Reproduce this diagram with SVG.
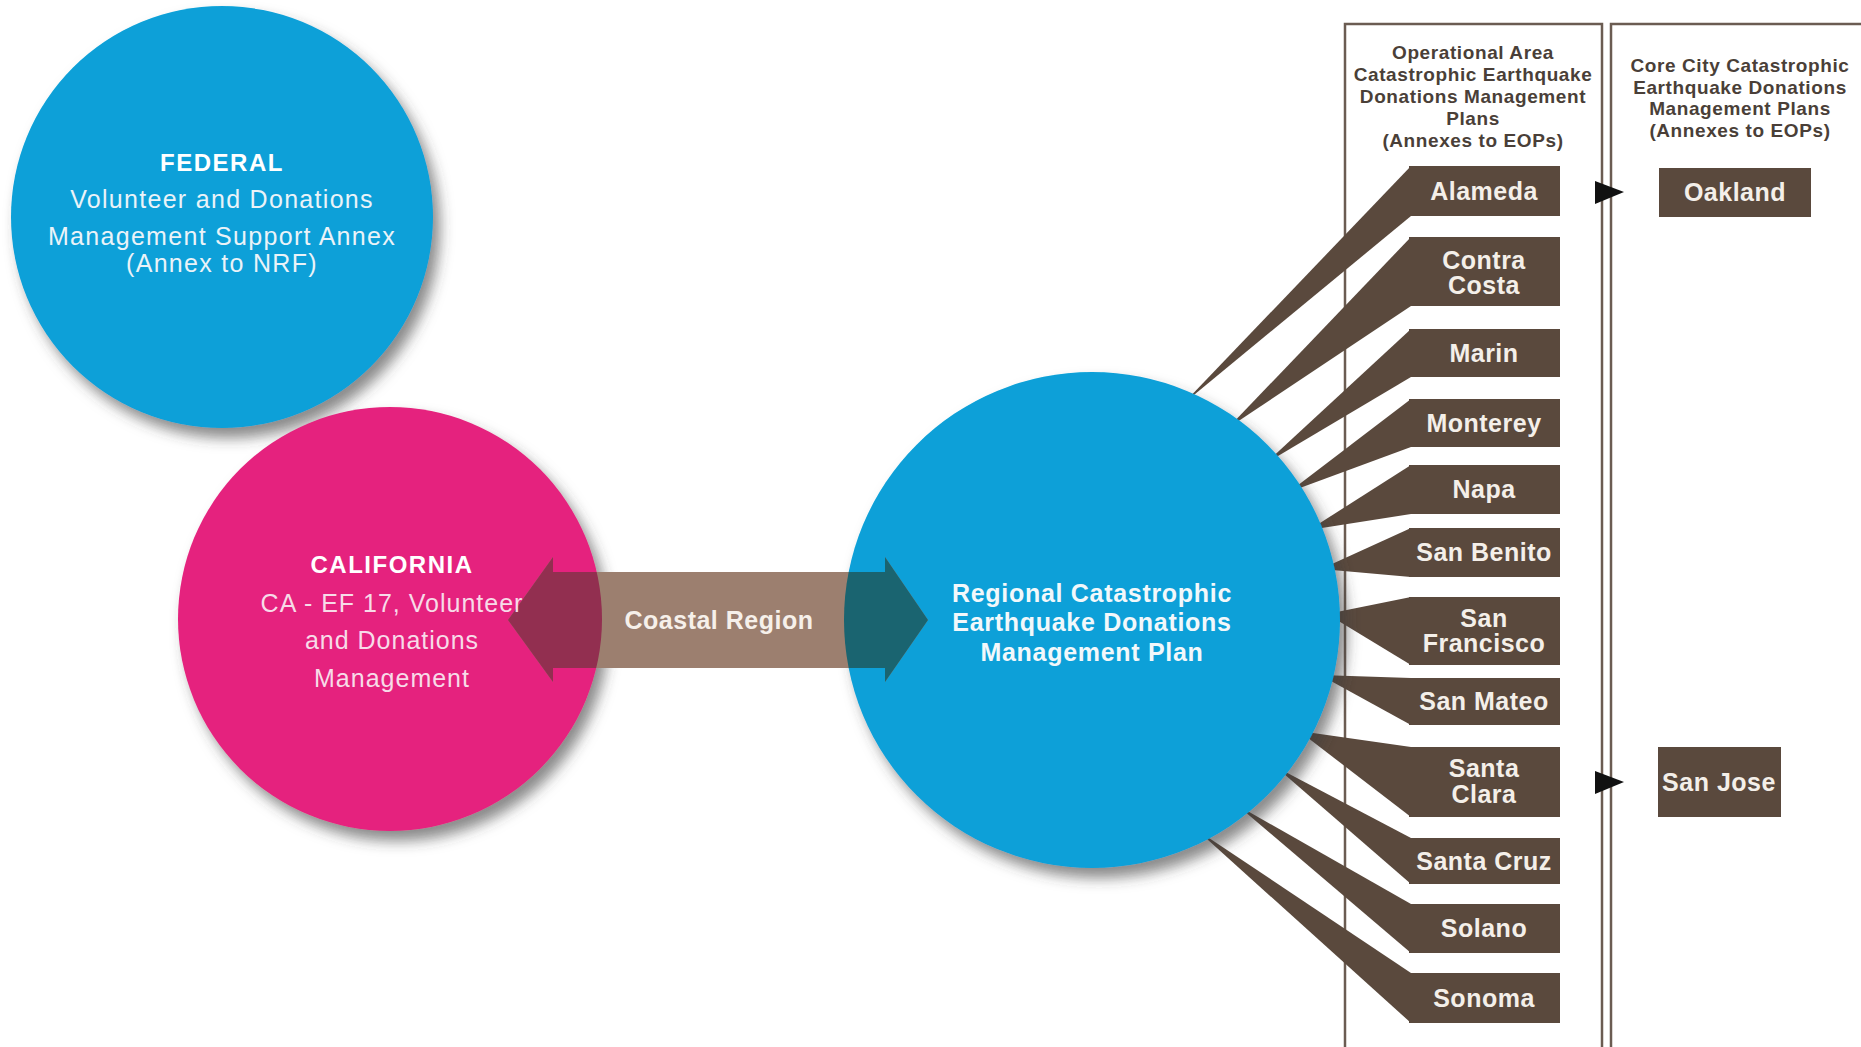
<svg xmlns="http://www.w3.org/2000/svg" width="1861" height="1047" viewBox="0 0 1861 1047">
<defs>
<style>
.bold{font-family:"Liberation Sans",Arial,sans-serif;font-weight:bold;}
.reg{font-family:"Liberation Sans",Arial,sans-serif;}
.ctitle{font-size:24px;letter-spacing:1.5px;fill:#ffffff;text-anchor:middle;}
.csub{font-size:25px;letter-spacing:1.3px;fill:#eaf3f8;text-anchor:middle;}
.casub{font-size:25px;letter-spacing:1.0px;fill:#f7dbe8;text-anchor:middle;}
.box{fill:#5a493d;}
.lbl{font-size:25px;letter-spacing:0.5px;fill:#f4efe9;text-anchor:middle;}
.ptxt{font-size:19px;letter-spacing:0.6px;fill:#4a3f38;text-anchor:middle;}
.panel{fill:none;stroke:#6b5c52;stroke-width:2.5;}
.wedge{fill:#5a493d;}
</style>
<filter id="shadow" x="-20%" y="-20%" width="150%" height="150%">
<feDropShadow dx="7" dy="10" stdDeviation="7" flood-color="#3a3a3a" flood-opacity="0.6"/>
</filter>
<clipPath id="clipCA"><circle cx="390" cy="619" r="212"/></clipPath>
<clipPath id="clipRG"><circle cx="1092" cy="620" r="248"/></clipPath>
<path id="coastalShape" d="M508,620 L553,557 L553,572 L885,572 L885,557 L928,620 L885,682 L885,668 L553,668 L553,682 Z"/>
</defs>
<rect width="1861" height="1047" fill="#ffffff"/>

<g id="panels">
<rect class="panel" x="1345" y="24" width="257" height="1100"/>
<rect class="panel" x="1611" y="24" width="300" height="1100"/>
<text class="bold ptxt" x="1473" y="59">Operational Area</text>
<text class="bold ptxt" x="1473" y="81">Catastrophic Earthquake</text>
<text class="bold ptxt" x="1473" y="103">Donations Management</text>
<text class="bold ptxt" x="1473" y="125">Plans</text>
<text class="bold ptxt" x="1473" y="147">(Annexes to EOPs)</text>
<text class="bold ptxt" x="1740" y="72">Core City Catastrophic</text>
<text class="bold ptxt" x="1740" y="94">Earthquake Donations</text>
<text class="bold ptxt" x="1740" y="115">Management Plans</text>
<text class="bold ptxt" x="1740" y="137">(Annexes to EOPs)</text>
</g>

<g id="connectors">
<polygon class="wedge" points="1183,404 1411,166 1411,216"/>
<polygon class="wedge" points="1228,428 1411,237 1411,306"/>
<polygon class="wedge" points="1266,463 1411,329 1411,377"/>
<polygon class="wedge" points="1289,492 1411,399 1411,447"/>
<polygon class="wedge" points="1309,530 1411,465 1411,514"/>
<polygon class="wedge" points="1321,569 1411,528 1411,577"/>
<polygon class="wedge" points="1327,614 1411,597 1411,665"/>
<polygon class="wedge" points="1320,675 1411,678 1411,725"/>
<polygon class="wedge" points="1299,731 1411,747 1411,817"/>
<polygon class="wedge" points="1276,767 1411,838 1411,884"/>
<polygon class="wedge" points="1237,805 1411,904 1411,953"/>
<polygon class="wedge" points="1197,830 1411,973 1411,1023"/>
<polygon points="1595,181 1595,204 1624,192" fill="#111111"/>
<polygon points="1595,771 1595,794 1624,782" fill="#111111"/>
</g>

<g id="regional">
<circle cx="1092" cy="620" r="248" fill="#08a0d8" filter="url(#shadow)"/>
</g>

<g id="federal">
<circle cx="222" cy="217" r="211" fill="#08a0d8" filter="url(#shadow)"/>
<text class="bold ctitle" x="222" y="171">FEDERAL</text>
<text class="reg csub" x="222" y="208">Volunteer and Donations</text>
<text class="reg csub" x="222" y="245">Management Support Annex</text>
<text class="reg csub" x="222" y="272">(Annex to NRF)</text>
</g>

<g id="california">
<circle cx="390" cy="619" r="212" fill="#e5237e" filter="url(#shadow)"/>
</g>

<g id="coastal-arrow">
<use href="#coastalShape" fill="#9c7f6f"/>
<use href="#coastalShape" fill="#922f50" clip-path="url(#clipCA)"/>
<use href="#coastalShape" fill="#1a6470" clip-path="url(#clipRG)"/>
<text class="bold" x="719" y="629" font-size="25" letter-spacing="0.5" fill="#f6f0ea" text-anchor="middle">Coastal Region</text>
</g>

<g id="california-text">
<text class="bold ctitle" x="392" y="573">CALIFORNIA</text>
<text class="reg casub" x="392" y="612">CA - EF 17, Volunteer</text>
<text class="reg casub" x="392" y="649">and Donations</text>
<text class="reg casub" x="392" y="687">Management</text>
</g>

<g id="regional-text">
<text class="bold" x="1092" y="602" font-size="25" letter-spacing="0.7" fill="#f2f8fb" text-anchor="middle">Regional Catastrophic</text>
<text class="bold" x="1092" y="631" font-size="25" letter-spacing="0.7" fill="#f2f8fb" text-anchor="middle">Earthquake Donations</text>
<text class="bold" x="1092" y="661" font-size="25" letter-spacing="0.7" fill="#f2f8fb" text-anchor="middle">Management Plan</text>
</g>

<g id="alameda"><rect class="box" x="1409" y="166" width="151" height="50"/><text class="bold lbl" x="1484" y="200">Alameda</text></g>
<g id="contra-costa"><rect class="box" x="1409" y="237" width="151" height="69"/><text class="bold lbl" x="1484" y="269">Contra</text><text class="bold lbl" x="1484" y="294">Costa</text></g>
<g id="marin"><rect class="box" x="1409" y="329" width="151" height="48"/><text class="bold lbl" x="1484" y="362">Marin</text></g>
<g id="monterey"><rect class="box" x="1409" y="399" width="151" height="48"/><text class="bold lbl" x="1484" y="432">Monterey</text></g>
<g id="napa"><rect class="box" x="1409" y="465" width="151" height="49"/><text class="bold lbl" x="1484" y="498">Napa</text></g>
<g id="san-benito"><rect class="box" x="1409" y="528" width="151" height="49"/><text class="bold lbl" x="1484" y="561">San Benito</text></g>
<g id="san-francisco"><rect class="box" x="1409" y="597" width="151" height="68"/><text class="bold lbl" x="1484" y="627">San</text><text class="bold lbl" x="1484" y="652">Francisco</text></g>
<g id="san-mateo"><rect class="box" x="1409" y="678" width="151" height="47"/><text class="bold lbl" x="1484" y="710">San Mateo</text></g>
<g id="santa-clara"><rect class="box" x="1409" y="747" width="151" height="70"/><text class="bold lbl" x="1484" y="777">Santa</text><text class="bold lbl" x="1484" y="803">Clara</text></g>
<g id="santa-cruz"><rect class="box" x="1409" y="838" width="151" height="46"/><text class="bold lbl" x="1484" y="870">Santa Cruz</text></g>
<g id="solano"><rect class="box" x="1409" y="904" width="151" height="49"/><text class="bold lbl" x="1484" y="937">Solano</text></g>
<g id="sonoma"><rect class="box" x="1409" y="973" width="151" height="50"/><text class="bold lbl" x="1484" y="1007">Sonoma</text></g>

<g id="oakland"><rect class="box" x="1659" y="168" width="152" height="49"/><text class="bold lbl" x="1735" y="201">Oakland</text></g>
<g id="san-jose"><rect class="box" x="1658" y="747" width="123" height="70"/><text class="bold lbl" x="1719" y="791">San Jose</text></g>
</svg>
